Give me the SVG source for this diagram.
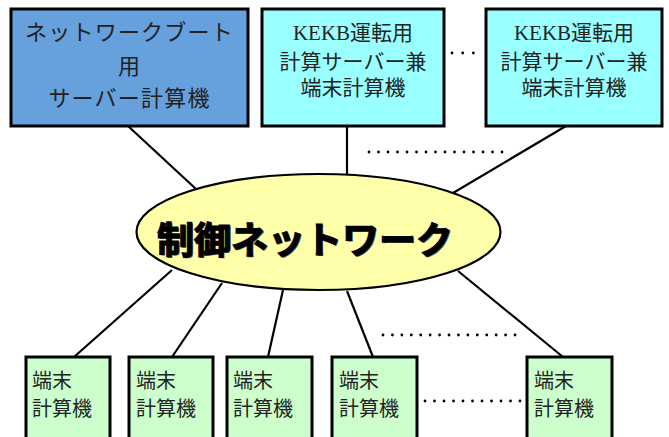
<svg xmlns="http://www.w3.org/2000/svg" width="669" height="437" viewBox="0 0 669 437">
<style>
.box{stroke:#000;stroke-width:3}
.blue{fill:#66a0dd}
.cyan{fill:#99ffff}
.green{fill:#ccffcc}
.t{font-family:"Liberation Serif","Noto Sans CJK JP",serif;font-size:21px;fill:#222;text-anchor:middle}
.b{font-size:22px;letter-spacing:1.2px}
.s{font-family:"Noto Sans CJK JP","Noto Sans",sans-serif;font-size:20px;fill:#222}
.ln{stroke:#000;stroke-width:2.2;fill:none}
.dot{stroke:#000;stroke-width:2.8;stroke-linecap:round;fill:none}
.title{font-family:"Noto Sans CJK JP",sans-serif;font-size:37px;font-weight:bold;text-anchor:middle}
</style>
<g id="connectors">
<line class="ln" x1="128" y1="126" x2="196" y2="189"/>
<line class="ln" x1="347" y1="126" x2="347" y2="175"/>
<line class="ln" x1="566" y1="126" x2="453" y2="193"/>
<line class="ln" x1="172" y1="270" x2="74" y2="357"/>
<line class="ln" x1="222" y1="283" x2="172" y2="357"/>
<line class="ln" x1="283" y1="290" x2="268" y2="357"/>
<line class="ln" x1="347" y1="291" x2="373" y2="357"/>
<line class="ln" x1="458" y1="271" x2="563" y2="357"/>
</g>
<g id="dots">
<line class="dot" x1="452" y1="53" x2="474" y2="53" stroke-dasharray="0 10.7"/>
<line class="dot" x1="369" y1="152" x2="503" y2="152" stroke-dasharray="0 9.5"/>
<line class="dot" x1="383" y1="335" x2="516" y2="335" stroke-dasharray="0 9.43"/>
<line class="dot" x1="425" y1="401" x2="521" y2="401" stroke-dasharray="0 9.5"/>
</g>
<g id="boot-server">
<rect class="box blue" x="11" y="9" width="237" height="117"/>
<text class="t b" x="129.5" y="40">ネットワークブート</text>
<text class="t b" x="129.5" y="74">用</text>
<text class="t b" x="129.5" y="106">サーバー計算機</text>
</g>
<g id="kekb-server-1">
<rect class="box cyan" x="262" y="9" width="182" height="117"/>
<text class="t" x="353" y="40">KEKB運転用</text>
<text class="t" x="353" y="69">計算サーバー兼</text>
<text class="t" x="353" y="95">端末計算機</text>
</g>
<g id="kekb-server-2">
<rect class="box cyan" x="486" y="9" width="176" height="117"/>
<text class="t" x="574" y="40">KEKB運転用</text>
<text class="t" x="574" y="69">計算サーバー兼</text>
<text class="t" x="574" y="95">端末計算機</text>
</g>
<g id="network">
<ellipse cx="318.5" cy="232" rx="182" ry="58" fill="#ffffaa" stroke="#000" stroke-width="2.2"/>
<text class="title" x="305" y="254" fill="#555" transform="translate(1.2,1.2)">制御ネットワーク</text>
<text class="title" x="305" y="254" fill="#000" stroke="#000" stroke-width="1.2">制御ネットワーク</text>
</g>
<g id="terminal-1">
<rect class="box green" x="26" y="357" width="84" height="90"/>
<text class="s" x="32" y="388">端末</text>
<text class="s" x="32" y="416">計算機</text>
</g>
<g id="terminal-2">
<rect class="box green" x="129" y="357" width="84" height="90"/>
<text class="s" x="136" y="388">端末</text>
<text class="s" x="136" y="416">計算機</text>
</g>
<g id="terminal-3">
<rect class="box green" x="227" y="357" width="85" height="90"/>
<text class="s" x="233" y="388">端末</text>
<text class="s" x="233" y="416">計算機</text>
</g>
<g id="terminal-4">
<rect class="box green" x="332" y="357" width="85" height="90"/>
<text class="s" x="339" y="388">端末</text>
<text class="s" x="339" y="416">計算機</text>
</g>
<g id="terminal-5">
<rect class="box green" x="527" y="357" width="85" height="90"/>
<text class="s" x="534" y="388">端末</text>
<text class="s" x="534" y="416">計算機</text>
</g>
</svg>
